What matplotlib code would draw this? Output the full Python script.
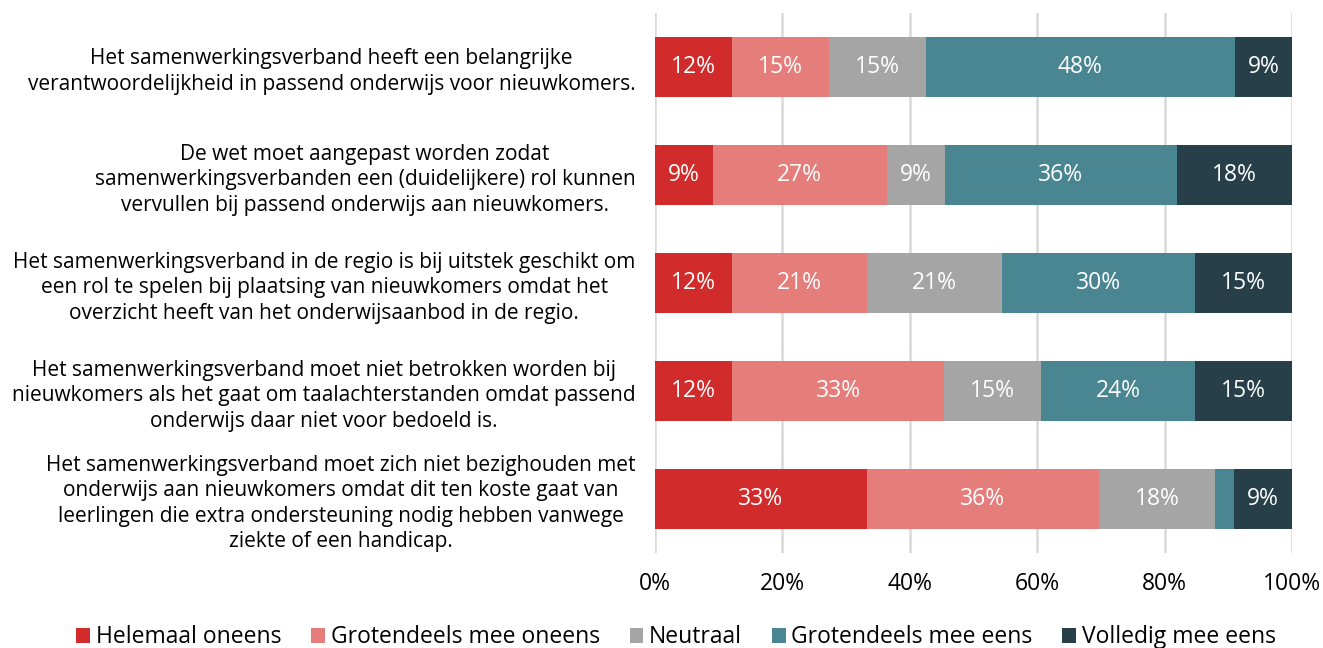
import numpy as np
import matplotlib.pyplot as plt

plt.rcParams['font.family'] = ['Open Sans', 'DejaVu Sans']

statements = [
    "Het samenwerkingsverband heeft een belangrijke\nverantwoordelijkheid in passend onderwijs voor nieuwkomers.",
    "De wet moet aangepast worden zodat\nsamenwerkingsverbanden een (duidelijkere) rol kunnen\nvervullen bij passend onderwijs aan nieuwkomers.",
    "Het samenwerkingsverband in de regio is bij uitstek geschikt om\neen rol te spelen bij plaatsing van nieuwkomers omdat het\noverzicht heeft van het onderwijsaanbod in de regio.",
    "Het samenwerkingsverband moet niet betrokken worden bij\nnieuwkomers als het gaat om taalachterstanden omdat passend\nonderwijs daar niet voor bedoeld is.",
    "Het samenwerkingsverband moet zich niet bezighouden met\nonderwijs aan nieuwkomers omdat dit ten koste gaat van\nleerlingen die extra ondersteuning nodig hebben vanwege\nziekte of een handicap.",
]
categories = ["Helemaal oneens", "Grotendeels mee oneens", "Neutraal",
              "Grotendeels mee eens", "Volledig mee eens"]
colors = ["#D12B2B", "#E57D7B", "#A5A5A5", "#4A8592", "#263F48"]

helemaal_oneens = [12.1, 9.1, 12.1, 12.1, 33.3]
grotendeels_oneens = [15.2, 27.3, 21.2, 33.3, 36.4]
neutraal = [15.2, 9.1, 21.2, 15.2, 18.2]
grotendeels_eens = [48.5, 36.4, 30.3, 24.2, 3.0]
volledig_eens = [9.1, 18.2, 15.2, 15.2, 9.1]
series = [helemaal_oneens, grotendeels_oneens, neutraal, grotendeels_eens, volledig_eens]

fig = plt.figure(figsize=(13.23, 6.48), dpi=100)
ax = fig.add_axes([0.495, 0.147, 0.4815, 0.833])

y = np.arange(len(statements))
left = np.zeros(len(statements))
for vals, name, col in zip(series, categories, colors):
    vals = np.array(vals)
    ax.barh(y, vals, left=left, height=0.56, color=col, label=name, zorder=3)
    for yi, v, l in zip(y, vals, left):
        if v >= 5:
            ax.text(l + v / 2, yi, f"{v:.0f}%", ha='center', va='center',
                    color='white', fontsize=16.5, zorder=4)
    left += vals

ax.set_xlim(0, 100)
ax.set_ylim(len(statements) - 0.5, -0.5)
ax.set_xticks(np.arange(0, 101, 20))
ax.set_xticklabels([f"{t}%" for t in range(0, 101, 20)], fontsize=16.5)
ax.set_yticks(y)
ax.set_yticklabels(statements, fontsize=15, linespacing=1.28)
for lab in ax.get_yticklabels():
    lab.set_multialignment('center')
ax.tick_params(axis='y', length=0, pad=14)
ax.tick_params(axis='x', length=0, pad=14)
ax.grid(axis='x', color='#D9D9D9', linewidth=1.8, zorder=0)
for s in ax.spines.values():
    s.set_visible(False)

fig.legend(*ax.get_legend_handles_labels(), loc='lower center', ncol=5,
           bbox_to_anchor=(0.511, -0.034), frameon=False, fontsize=16.5,
           handlelength=0.6, handleheight=0.6, handletextpad=0.25, columnspacing=1.3)

plt.savefig('out.png', dpi=100)
